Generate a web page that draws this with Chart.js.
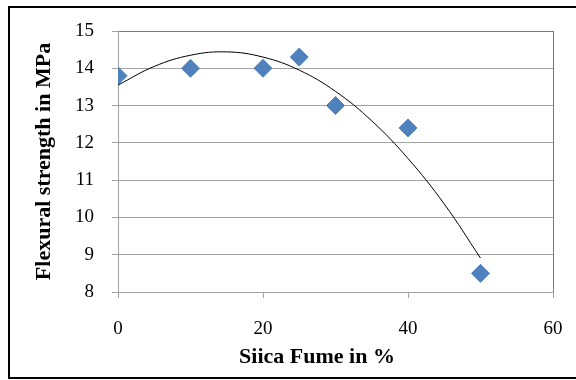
<!DOCTYPE html>
<html>
<head>
<meta charset="utf-8">
<script src="https://cdn.jsdelivr.net/npm/chart.js@4.4.1/dist/chart.umd.min.js"></script>
<style>
  html, body { margin: 0; padding: 0; background: #fff; overflow: hidden; }
  #frame { position: absolute; left: 8px; top: 6px; width: 600px; height: 373px; border: 2px solid #000; box-sizing: border-box; }
  #wrap { position: absolute; left: 0; top: 0; width: 576px; height: 380px; }
</style>
</head>
<body>
<div id="frame"></div>
<div id="wrap"><canvas id="chart"></canvas></div>
<script>
// measured points
const silicaFume = [0, 10, 20, 25, 30, 40, 50];
const flexStrength = [13.8, 14.0, 14.0, 14.3, 13.0, 12.4, 8.5];

// polynomial trendline
const trendX = [0, 5, 10, 15, 20, 25, 30, 35, 40, 45, 50];
const trendY = [13.55, 14.05, 14.35, 14.44, 14.30, 13.95, 13.38, 12.59, 11.58, 10.36, 8.91];

const xTitle = 'Siica Fume in %';
const yTitle = 'Flexural strength in MPa';

const serif = "'Liberation Serif', 'Times New Roman', serif";
const gridGrey = '#a3a3a3';
const borderGrey = '#7a7a7a';

const xTitlePlugin = {
    id: 'xTitle',
    afterDraw(chart) {
        const ctx = chart.ctx;
        ctx.save();
        ctx.font = 'bold 22px ' + serif;
        ctx.fillStyle = '#000';
        ctx.textAlign = 'center';
        ctx.textBaseline = 'middle';
        ctx.fillText(xTitle, 317, 357);
        ctx.restore();
    }
};

new Chart(document.getElementById('chart'), {
    type: 'scatter',
    data: {
        datasets: [
            {
                label: 'Trend',
                data: trendX.map((x, i) => ({x: x, y: trendY[i]})),
                showLine: true,
                borderColor: '#000',
                borderWidth: 1,
                pointRadius: 0,
                tension: 0.4,
                order: 0
            },
            {
                label: 'Flexural strength',
                data: silicaFume.map((x, i) => ({x: x, y: flexStrength[i]})),
                pointStyle: 'rectRot',
                pointRadius: 9,
                backgroundColor: '#4F81BD',
                borderColor: '#4F81BD',
                borderWidth: 1,
                order: 1
            }
        ]
    },
    options: {
        responsive: true,
        maintainAspectRatio: false,
        animation: false,
        layout: { padding: { left: 0, top: 31, right: 23, bottom: 0 } },
        plugins: {
            legend: { display: false },
            tooltip: { enabled: false }
        },
        scales: {
            x: {
                type: 'linear',
                min: 0,
                max: 60,
                ticks: { stepSize: 20, padding: 20, color: '#000', font: { family: serif, size: 19 } },
                grid: {
                    color: c => (c.tick && c.tick.value === 60) ? borderGrey : 'rgba(0,0,0,0)',
                    tickColor: gridGrey,
                    tickLength: 6
                },
                border: { color: gridGrey },
                afterFit: s => {
                    s.height = 88;
                    // tick padding is only there to push labels down, not sideways
                    s.paddingLeft = 0;
                    s.paddingRight = 0;
                }
            },
            y: {
                min: 8,
                max: 15,
                ticks: { stepSize: 1, padding: 18, color: '#000', font: { family: serif, size: 19 } },
                grid: {
                    color: c => (c.tick && c.tick.value === 15) ? borderGrey : gridGrey,
                    tickColor: gridGrey,
                    tickLength: 6
                },
                border: { color: gridGrey },
                title: {
                    display: true,
                    text: yTitle,
                    color: '#000',
                    font: { family: serif, size: 22, weight: 'bold' },
                    padding: { top: 31, bottom: 0 }
                },
                afterFit: s => { s.width = 118; }
            }
        }
    },
    plugins: [xTitlePlugin]
});
</script>
</body>
</html>
